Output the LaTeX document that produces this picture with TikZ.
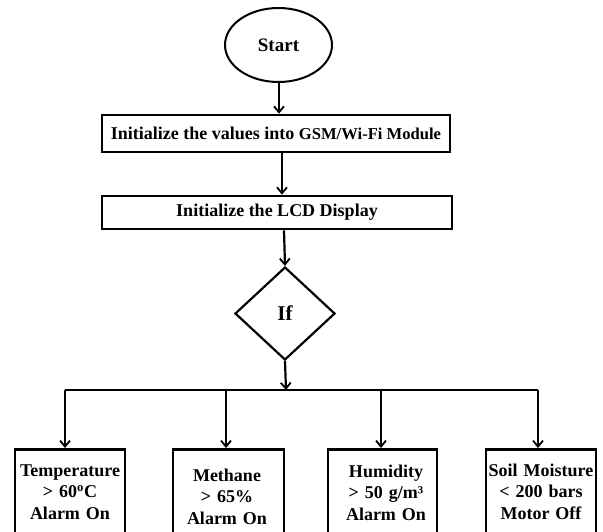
\documentclass[tikz,border=0pt]{standalone}
\usepackage{fontspec}
\setmainfont{Liberation Serif}
\usetikzlibrary{shapes.geometric,arrows.meta}
\begin{document}
\begin{tikzpicture}[x=1pt,y=-1pt,
  arr/.style={line width=2.2pt,-{Straight Barb[length=6pt,width=10pt,line width=1.8pt]}},
  ln/.style={line width=2.2pt},
  initbox/.style={draw,line width=2.6pt,rectangle,inner sep=0pt,font=\bfseries\fontsize{18}{21}\selectfont},
  outbox/.style={draw,line width=2.6pt,rectangle,inner sep=0pt,anchor=north,minimum height=120pt},
  outtxt/.style={align=center,inner sep=0pt,anchor=base,text width=115pt,font=\bfseries\fontsize{18}{21.5}\selectfont}
]
\clip (0,0) rectangle (603,531);
\fill[white] (0,0) rectangle (603,531);

\node[draw,ellipse,line width=2pt,minimum width=107pt,minimum height=74pt,inner sep=0pt,font=\bfseries\fontsize{19}{22}\selectfont] (start) at (278.5,45) {Start};

\node[initbox,minimum width=348pt,minimum height=37pt] (init1) at (276,133.5)
  {Initialize the values into {\fontsize{16.6}{20}\selectfont GSM/Wi-Fi Module}};
\node[initbox,minimum width=350pt,minimum height=33pt] (init2) at (277,212.5)
  {Initialize the LCD Display};

\node[draw,diamond,line width=2.2pt,minimum width=100pt,minimum height=93pt,inner sep=0pt,font=\bfseries\fontsize{21}{24}\selectfont] (dia) at (285,313.5) {If};

\coordinate (a1) at (279,0);
\coordinate (a2) at (282,0);
\coordinate (a3) at (284,0);
\coordinate (a4) at (286,0);

\draw[arr] (start.south -| a1) -- (init1.north -| a1);
\draw[arr] (init1.south -| a2) -- (init2.north -| a2);
\draw[arr] (init2.south -| a3) -- (dia.north);

\coordinate (bar) at (286,390);
\coordinate (b1) at (65,390);
\coordinate (b2) at (226,390);
\coordinate (b3) at (381,390);
\coordinate (b4) at (538,390);
\draw[arr] (dia.south) -- (bar);
\draw[ln] (b1) -- (b4);

\node[outbox,minimum width=110pt] (o1) at (70,448) {};
\node[outbox,minimum width=111pt] (o2) at (228.5,448) {};
\node[outbox,minimum width=109pt] (o3) at (382.5,448) {};
\node[outbox,minimum width=110pt] (o4) at (541,448) {};

\draw[arr] (b1) -- (b1 |- o1.north);
\draw[arr] (b2) -- (b2 |- o2.north);
\draw[arr] (b3) -- (b3 |- o3.north);
\draw[arr] (b4) -- (b4 |- o4.north);

\node[outtxt] (t1) at (70,476) {Temperature\\> 60\textsuperscript{o}C\\Alarm On};
\node[outtxt] (t2) at (227,481) {Methane\\> 65\%\\Alarm On};
\node[outtxt] (t3) at (386,477) {Humidity\\> 50 g/m³\\Alarm On};
\node[outtxt] (t4) at (541,476) {Soil Moisture\\< 200 bars\\Motor Off};
\end{tikzpicture}
\end{document}
